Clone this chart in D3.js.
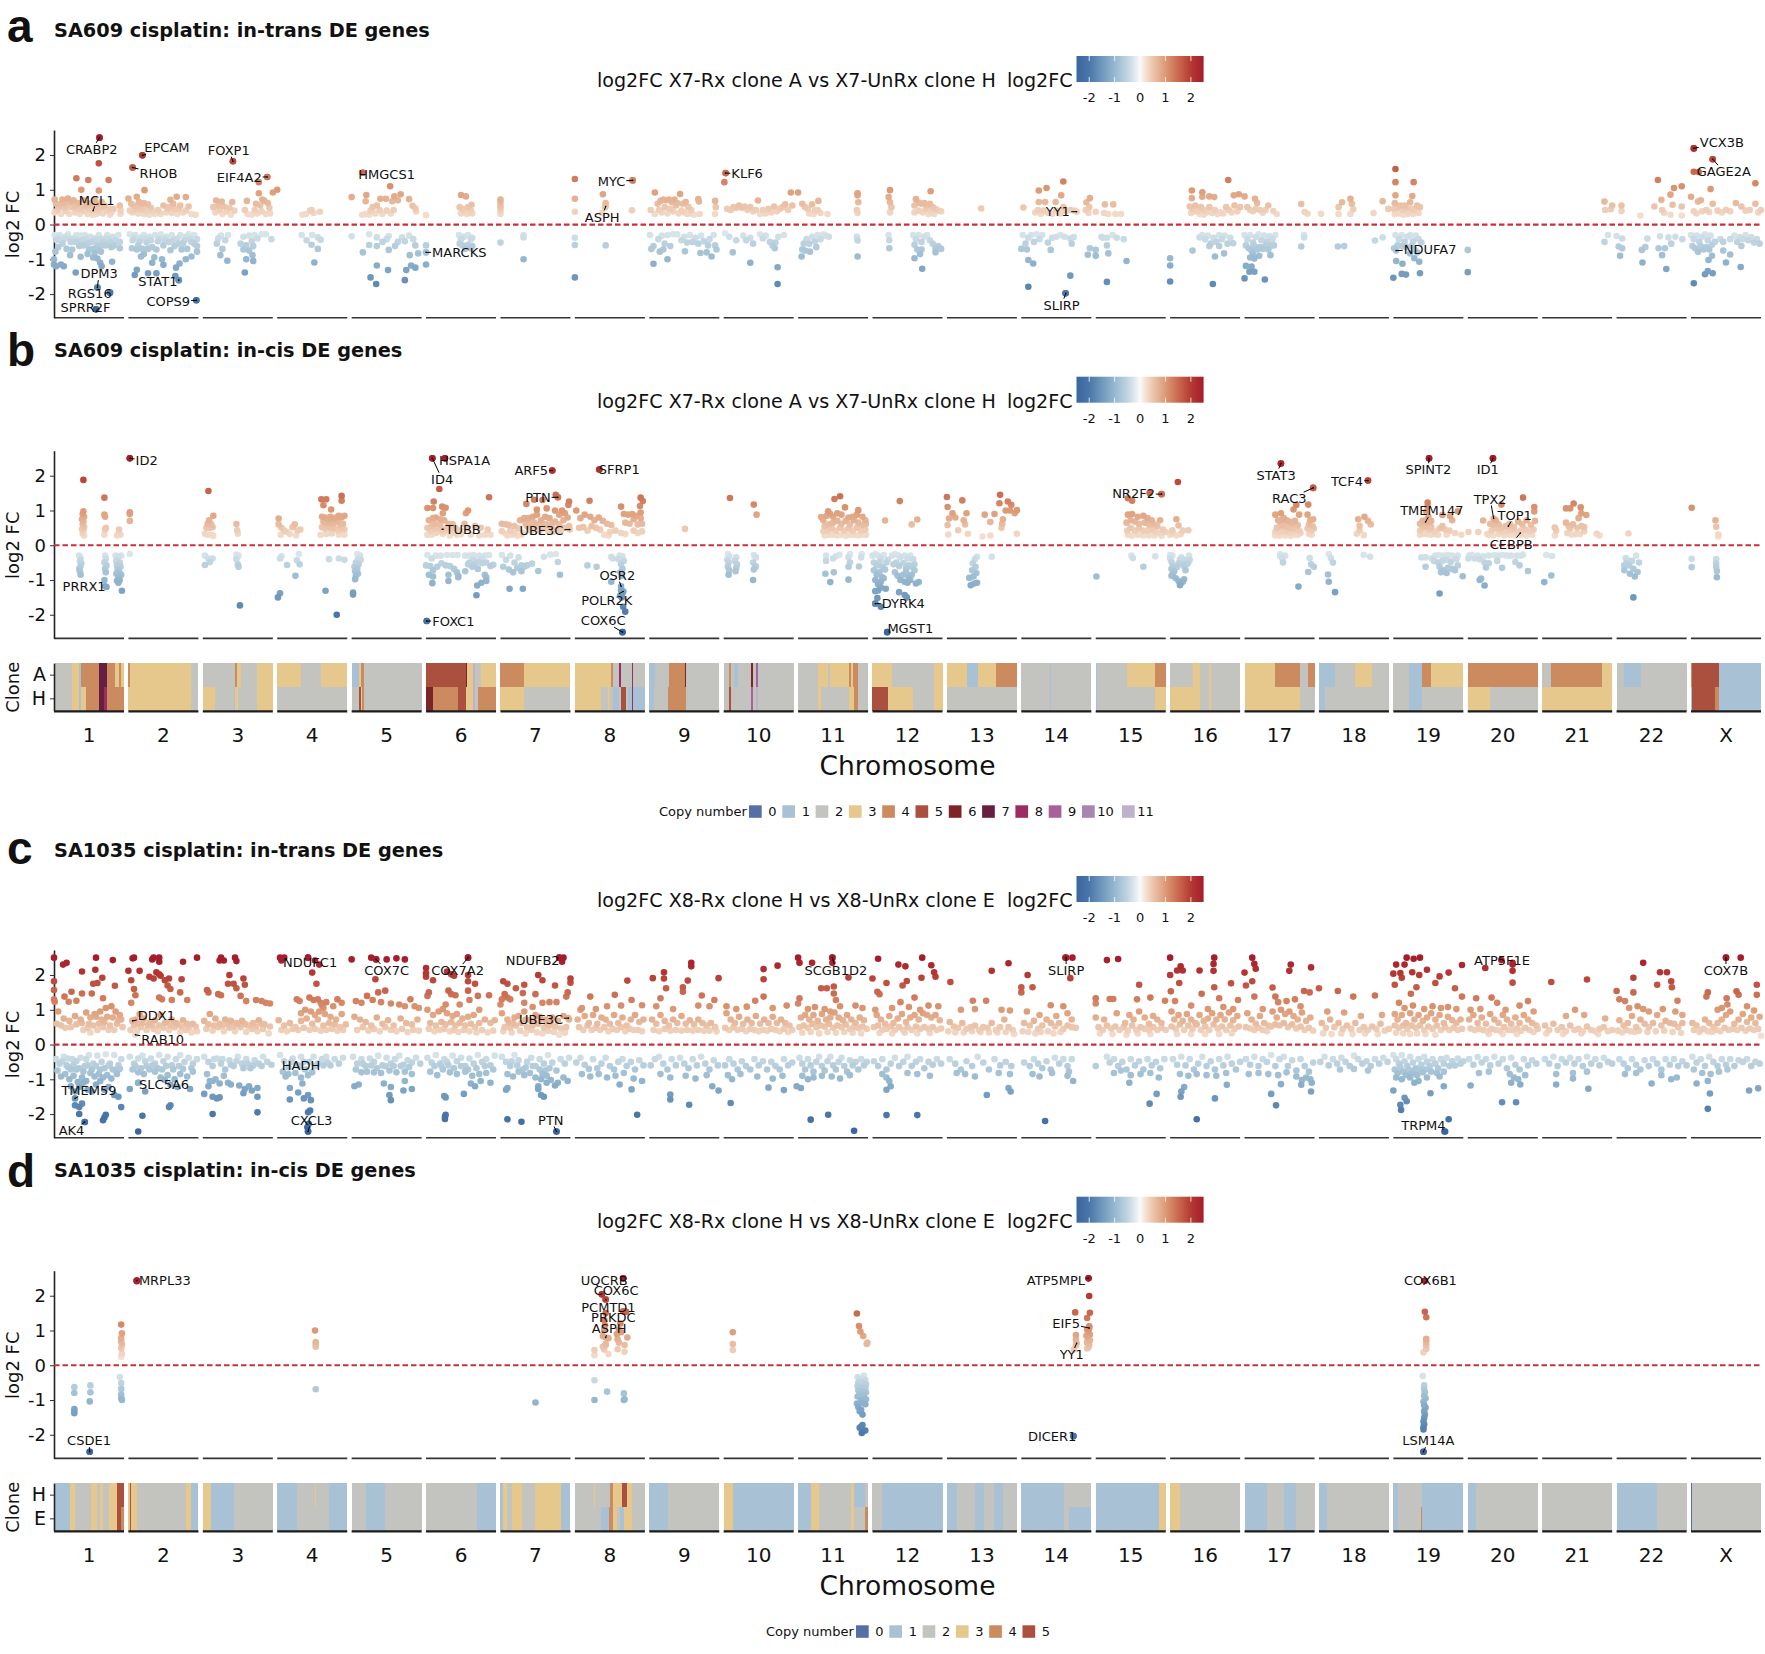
<!DOCTYPE html>
<html>
<head>
<meta charset="utf-8">
<script src="https://cdn.jsdelivr.net/npm/d3@7"></script>
<style>
  body { margin: 0; background: #fff; }
  text { font-family: "DejaVu Sans", sans-serif; fill: #111; }
</style>
</head>
<body>
<svg id="chart" width="1765" height="1654"></svg>
<script>
const chromNames = ['1','2','3','4','5','6','7','8','9','10','11','12','13','14','15','16','17','18','19','20','21','22','X'];
const fcTicks = [-2, -1, 0, 1, 2];
const fcStops = [-2.5, -2, -1.5, -1, -0.5, -0.2, 0, 0.2, 0.5, 1, 1.5, 2, 2.5];
const fcColors = ['#3a65a0', '#4a77a9', '#6f98bd', '#96b8cf', '#bfd4e0', '#e0eaee', '#fafafa', '#f5e3d6', '#ecc6ad', '#dc9a75', '#c9694f', '#b53a33', '#a51c2c'];
const cnColors = ['#5470a6', '#a9c1d4', '#c3c4bf', '#e6c88d', '#cc8b5f', '#ab503e', '#7d2428', '#661f3f', '#9c2d63', '#a9619a', '#a786b0', '#bfb0cc'];

// points are flat pos,fc pairs per chromosome, pos is 0-100 along the chromosome
const transA = [
 [65,2.5,64,1.76,32,1.33,49,1.28,78,1.28,64,.98,39,1,1,.72,12,.72,20,.75,3,.6,8,.58,15,.62,24,.65,28,.7,35,.62,42,.7,46,.55,52,.6,58,.72,62,.5,68,.65,72,.55,80,.45,1,.35,5,.42,10,.3,14,.48,18,.38,22,.3,26,.5,30,.35,33,.45,37,.3,40,.5,44,.38,48,.3,50,.45,54,.35,57,.5,60,.3,63,.42,66,.35,70,.32,75,.4,80,.28,85,.45,94,.55,95,.4,95,.3,82,.35,7,.5,17,.52,31,.55,38,.42,47,.62,55,.28,61,.6,67,.5,
  1,-.3,4,-.45,8,-.3,12,-.55,16,-.35,20,-.28,24,-.5,28,-.4,32,-.3,36,-.62,40,-.45,44,-.3,48,-.55,52,-.35,56,-.7,60,-.45,64,-.3,68,-.6,72,-.4,76,-.3,80,-.52,84,-.35,88,-.45,92,-.3,94,-.5,94,-.68,2,-.78,0,-1,3,-1.2,0,-1.15,10,-1.15,14,-1.2,23,-.88,38,-.93,48,-.85,56,-.95,62,-.98,66,-1.1,68,-1.2,83,-1.07,31,-1.38,62,-1.81,80,-1.96,60,-2.44,6,-.65,18,-.7,26,-.72,34,-.48,42,-.6,50,-.72,58,-.82,74,-.6,86,-.6,46,-.42,54,-.5,62,-.6,66,-.42,70,-.5,78,-.42,82,-.65,6,-.38,14,-.42,22,-.4,30,-.5,38,-.32,58,-.4,63,-.72,67,-.78],
 [20,1.99,6,1.64,23,.99,0,.75,12,.8,69,.8,82,.79,60,.71,4,.6,8,.55,15,.65,18,.6,22,.62,28,.58,2,.4,6,.35,10,.45,14,.32,18,.42,22,.3,26,.4,30,.28,34,.38,38,.3,42,.42,46,.3,50,.55,54,.35,58,.5,62,.33,66,.45,70,.3,74,.55,78,.35,82,.4,86,.52,90,.3,96,.28,8,.42,12,.52,20,.48,24,.32,32,.48,44,.36,56,.45,64,.6,72,.45,
  2,-.28,6,-.45,10,-.3,14,-.6,18,-.38,22,-.3,26,-.52,30,-.35,34,-.65,38,-.3,42,-.48,46,-.28,50,-.6,54,-.35,58,-.5,62,-.3,66,-.62,70,-.4,74,-.3,78,-.55,82,-.35,86,-.28,90,-.5,94,-.3,98,-.42,98,-.62,5,-.68,12,-.72,20,-.7,28,-.7,40,-.72,60,-.74,76,-.72,84,-.7,18,-.92,37,-.94,48,-1,34,-1.1,50,-1.16,12,-1.3,28,-1.4,40,-1.4,9,-1.45,68,-1.24,73,-1.12,82,-1,98,-.78,67,-1.48,72,-1.6,97,-2.18,22,-.85,90,-.92,8,-.4,16,-.48,24,-.4,32,-.45,44,-.4,52,-.45,64,-.45,72,-.55,80,-.45,88,-.42,94,-.55],
 [43,1.82,92,1.37,80,1.22,100,.92,80,.9,19,.69,27,.66,42,.65,63,.68,93,.62,85,.72,88,.68,76,.6,82,.55,95,.48,15,.5,22,.55,30,.52,38,.48,18,.35,24,.42,28,.3,34,.38,40,.28,45,.4,60,.42,64,.3,70,.28,74,.42,78,.32,84,.38,90,.3,96,.32,
  22,-.4,26,-.32,32,-.45,36,-.3,28,-.7,25,-.88,35,-1.04,20,-.55,62,-1,71,-.88,72,-1.05,60,-1.38,98,-.42,54,-.55,58,-.35,62,-.6,66,-.32,70,-.48,74,-.3,78,-.4,84,-.28,90,-.28,58,-.72,66,-.75,72,-.62],
 [0,1,36,.28,47,.4,52,.33,61,.37,41,.3,49,.42,35,-.3,42,-.45,50,-.3,58,-.37,62,-.44,49,-.58,58,-.7,53,-1.09],
 [0,.79,21,.85,20,.67,16,1.49,55,1.1,70,.87,61,.81,41,.74,49,.74,58,.67,66,.7,82,.73,87,.54,91,.47,30,.5,36,.55,27,.4,34,.32,15,.28,20,.3,25,.28,40,.42,44,.3,50,.4,56,.32,60,.42,92,.38,
  0,-.34,25,-.28,36,-.37,53,-.33,72,-.37,82,-.32,16,-.8,25,-.59,36,-.62,53,-.73,62,-.62,83,-.88,95,-.83,91,-.6,44,-.5,50,-.42,66,-.5,76,-.48,88,-.42,36,-1.18,52,-1.31,78,-1.31,85,-1.18,91,-1.24,27,-1.52,35,-1.71,76,-1.6],
 [0,.27,50,.85,57,.81,65,.57,48,.5,52,.45,60,.5,64,.4,50,.32,54,.38,58,.3,62,.35,66,.32,0,-.6,0,-1.15,0,-.8,47,-.3,50,-.42,54,-.35,60,-.3,64,-.42,66,-.38,48,-.55,52,-.6,60,-.58,64,-.68,56,-.7,66,-.62],
 [0,.72,0,.65,0,.55,0,.48,0,.4,0,.3,0,-.52,33,-.3,33,-.37,33,-1],
 [0,1.31,0,.74,0,.37,40,.87,44,.62,81.5,.41,82.5,1.27,43,.5,39,.33,44,-.6,0,-.59,0,-1.52,0,-.38],
 [8,.92,44,.88,70,.73,71,.66,2,.42,12,.6,16,.68,20,.72,24,.7,28,.72,32,.65,36,.72,40,.62,48,.6,52,.65,56,.5,60,.42,8,.3,14,.42,18,.35,22,.5,26,.32,30,.45,34,.38,38,.55,42,.32,46,.4,50,.35,54,.3,58,.32,64,.28,72,.3,94,.68,95,.5,94,.3,
  1,-.3,6,-.62,13,-.42,15,-.78,18,-.32,22,-.55,26,-.3,30,-.62,34,-.28,40,-.28,46,-.45,50,-.35,54,-.52,58,-.3,62,-.5,66,-.38,70,-.55,74,-.32,78,-.48,84,-.6,86,-.42,92,-.3,6,-1.13,26,-1,51,-.77,73,-.82,82,-.8,89,-.92,3,-.7,20,-.72,96,-.72,94,-.6],
 [3,1.48,1,1.22,49,.69,96,.92,5,.45,10,.42,14,.5,18,.48,22,.55,26,.48,30,.52,34,.42,38,.5,42,.38,46,.42,52,.3,56,.42,60,.32,64,.45,68,.35,72,.52,76,.38,80,.45,84,.5,88,.58,92,.42,98,.55,
  2,-.25,8,-.35,13,-.8,18,-.45,28,-.32,32,-.45,38,-.38,42,-.55,52,-.28,56,-.4,60,-.32,66,-.5,70,-.6,74,-.52,78,-.35,86,-.3,38,-1.1,77,-1.23,77,-1.71,73,-.68],
 [0,.92,6,.6,29,.68,10,.5,14,.45,20,.58,24,.4,16,.32,22,.3,28,.42,32,.33,42,.3,85,.9,85,.84,86,.64,84,.42,85,.33,
  5,-.92,17,-.78,26,-.65,85,-.92,85,-.46,44,-.35,8,-.55,12,-.42,16,-.55,20,-.35,24,-.48,28,-.3,32,-.42,36,-.28,39,-.32,6,-.72,10,-.75,84,-.35],
 [25,.99,23,.79,25,.64,27,.5,25,.35,83,.96,62,.73,66,.63,60,.55,70,.6,74,.62,78,.55,82,.6,86,.5,90,.45,60,.35,66,.4,72,.35,76,.45,80,.3,84,.38,88,.3,94,.4,98,.38,
  23,-.3,24,-.45,24,-.68,58,-.3,62,-.42,66,-.3,70,-.5,74,-.35,78,-.3,82,-.45,86,-.55,90,-.68,94,-.62,98,-.7,60,-.58,64,-.72,70,-.72,60,-.97,71,-1.27,68,-.85,90,-.8],
 [49,.46],
 [3,.49,25,.98,36,1.05,60,1.24,57,.84,25,.65,34,.65,49,.65,60,.5,20,.35,24,.42,28,.3,32,.4,38,.33,44,.3,50,.4,56,.32,64,.38,70,.42,76,.4,98,.76,93,.64,97,.5,92,.42,96,.33,
  2,-.3,6,-.55,10,-.38,14,-.3,18,-.5,22,-.28,26,-.42,30,-.3,38,-.52,44,-.38,50,-.35,56,-.3,62,-.35,70,-.4,75,-.36,8,-.72,0,-.7,10,-1.02,17,-1.12,10,-1.79,70,-1.47,63,-1.98,42,-.73,72,-.55,95,-.87,98,-.68],
 [13,.58,25,.58,0,.37,12,.33,18,.3,28,.3,36,.3,10,-.38,16,-.38,24,-.3,30,-.38,40,-.42,0,-.73,0,-.9,16,-.6,18,-.83,44,-1.05,16,-1.65,8,-.35],
 [0,-.97,0,-1.18,0,-1.64,31,.98,31,.76,46,.93,46,.8,56,.81,63,.79,83,1.28,91,.84,98,.87,28,.52,32,.45,36,.55,40,.4,44,.5,48,.42,52,.35,56,.5,60,.33,64,.42,68,.3,72,.35,76,.32,80,.5,84,.42,88,.35,92,.55,96,.38,100,.5,30,.33,36,.38,42,.3,48,.28,
  32,-.75,42,-.37,46,-.3,50,-.42,54,-.32,58,-.55,62,-.38,66,-.5,70,-.3,74,-.42,78,-.32,82,-.55,86,-.38,90,-.54,64,-.92,61,-1.71,77,-.83,70,-.62,56,-.62],
 [0,.81,15,.74,18,.62,34,.55,41,.39,4,.5,8,.42,12,.38,16,.45,22,.42,26,.34,30,.42,46,.3,
  0,-.3,4,-.42,8,-.3,12,-.52,16,-.36,20,-.28,24,-.45,28,-.32,32,-.5,36,-.34,40,-.42,44,-.3,2,-.6,6,-.68,10,-.75,14,-.62,18,-.72,22,-.65,26,-.7,30,-.6,34,-.72,38,-.6,42,-.6,12,-.85,21,-.9,37,-.88,2,-1.19,10,-1.21,7,-1.36,14,-1.36,0,-1.55,29,-1.58,8,-.95,14,-.98,81,.59,86,.36,90,.31,85,-.3,85,-.37,81,-.63],
 [3,.31,28,.3,28,.5,33,.64,45,.74,47,.6,49,.44,45,.3,78,.33,91,.67,99,.45,27,-.63,36,-.62,80,-.46,91,-.37],
 [3,1.6,3,1.22,29,1.22,3,.84,27,.82,2,.62,16,.55,24,.64,1,.45,6,.48,10,.55,14,.42,18,.5,22,.36,26,.45,30,.42,34,.55,38,.5,2,.3,8,.32,14,.28,20,.3,28,.3,36,.33,
  3,-.3,8,-.42,12,-.3,16,-.5,20,-.35,24,-.3,28,-.48,32,-.32,36,-.42,40,-.52,1,-.68,24,-.83,30,-.97,37,-1.07,4,-1.05,13,-1.13,12,-1.42,18,-1.44,0,-1.53,38,-1.4,6,-.6,12,-.62,18,-.65,26,-.62,30,-.72,34,-.8],
 [0,-.73,0,-1.37],
 [89,.66,100,.55,90,.42,98,.44,94,-.3,89,-.5],
 [7,.55,7,.39,34,.26,54,.52,64,.71,59,1.28,65,.42,77,.86,82,1.05,93,1.1,80,.57,93,.52,93,.26,77,.28,68,.34,0,-.33,8,-.4,3,-.63,8,-.68,5,-.9,37,-1.09,36,-.73,41,-.65,44,-.4,60,-.68,69,-.68,65,-.88,71,-1.28,62,-.34,74,-.37,84,-.35,94,-.42,78,-.55],
 [4,2.19,31,1.88,4,1.52,11,1.51,28,1.02,0,.8,10,.66,14,.7,31,.6,64,.62,92,1.19,92,.6,4,.38,8,.32,16,.38,22,.42,26,.36,38,.4,44,.35,50,.42,56,.38,72,.52,78,.4,84,.42,96,.35,100,.42,
  0,-.3,4,-.42,8,-.32,12,-.5,16,-.35,20,-.28,24,-.45,28,-.32,2,-.62,6,-.68,10,-.78,14,-.62,18,-.72,22,-.65,26,-.72,30,-.58,34,-.5,25,-1.02,30,-.9,46,-.75,56,-.86,50,-1.09,71,-1.22,4,-1.69,20,-1.43,24,-1.34,31,-1.4,56,-.42,62,-.32,66,-.5,70,-.36,74,-.42,78,-.3,82,-.45,86,-.36,90,-.52,94,-.42,98,-.55,72,-.62,42,-.42,46,-.5]
];

const cisB = [
 [42,1.88,72,1.37,42,.98,41,.9,43,.82,40,.75,42,.68,41,.6,43,.52,40,.46,42,.4,41,.33,43,.27,72,.88,73,.82,74,.5,73,.45,72,.3,93,.45,92,.33,90,.28,95,.3,
  36,-.3,38,-.38,37,-.45,39,-.52,38,-.6,36,-.68,37,-.75,38,-.85,73,-.3,74,-.4,72,-.5,75,-.58,73,-.68,74,-.78,72,-1,75,-1.2,88,-.3,92,-.35,96,-.3,89,-.45,94,-.5,90,-.58,95,-.62,91,-.7,93,-.78,89,-.82,96,-.85,92,-.92,94,-1,90,-1.02,92,-1.08,97,-1.31],
 [2,2.5,2,.95,2,.9,2,.7,2,-.25],
 [8,1.56,15,.85,9,.72,7,.62,12,.6,5,.5,10,.5,14,.52,3,.33,7,.3,12,.3,15,.27,48,.61,49,.43,50,.33,3,-.3,8,-.38,14,-.38,3,-.57,10,-.48,48,-.27,51,-.3,48,-.4,50,-.55,51,-.62,53,-1.73],
 [2,.77,2,.6,6,.5,10,.42,14,.38,18,.32,5,.3,25,.6,22,.52,29,.42,33,.45,27,.28,63,1.32,70,1.32,66,1.15,77,1.03,92,1.42,92,1.28,64,.82,68,.8,72,.78,76,.82,80,.76,84,.8,88,.85,92,.8,96,.85,66,.68,70,.65,74,.7,78,.62,82,.66,86,.68,90,.6,94,.62,64,.52,68,.48,72,.55,76,.48,80,.52,84,.46,88,.42,92,.5,96,.45,62,.3,70,.32,78,.34,88,.3,96,.3,
  6,-.32,4,-.38,14,-.57,28,-.43,32,-.55,31,-.25,26,-.88,4,-1.38,1,-1.5,69,-1.31,85,-2,74,-.4,88,-.38,96,-.42],
 [8,-.25,12,-.3,9,-.38,13,-.42,6,-.5,10,-.55,4,-.62,8,-.68,5,-.75,9,-.82,6,-.88,5,-.98,2,-1.42,2,-1.36],
 [9,2.5,27,2.5,1,-2.18,19,1.62,90,1.38,11,1.26,2,1.07,10,1.07,23,1.11,28,1.08,24,.92,60,1,57,.92,4,.72,10,.78,14,.8,20,.75,26,.72,32,.62,38,.6,2,.5,8,.55,14,.48,18,.5,22,.42,30,.5,36,.48,42,.5,48,.42,55,.62,58,.48,70,.55,78,.5,2,.3,8,.3,14,.35,24,.33,34,.28,44,.3,50,.32,64,.3,76,.28,84,.3,88,.45,92,.3,6,.42,12,.62,16,.38,20,.6,28,.42,40,.36,
  2,-.28,8,-.38,14,-.3,21,-.3,30,-.28,38,-.28,45,-.28,56,-.3,62,-.3,68,-.28,76,-.3,84,-.3,90,-.28,0,-.58,6,-.6,10,-.72,16,-.62,22,-.52,28,-.58,34,-.6,40,-.68,44,-.78,46,-.88,32,-.85,56,-.75,66,-.62,70,-.55,74,-.68,80,-.52,86,-.5,92,-.6,96,-.56,62,-.5,4,-.85,10,-.9,9,-1.09,32,-1.03,46,-.92,72,-1.44,73,-1.16,79,-1.08,86,-1.03,84,-.85,86,-.92,68,-.42,74,-.48,80,-.38,60,-.55],
 [74,2.15,79,1.45,82,1.38,37,1.19,48,1.31,52,1.03,60,1.3,66,1.06,98,1.26,97,1.16,78,1,88,1,92,.92,2,.62,8,.6,12,.58,20,.55,28,.72,34,.78,40,.78,46,.82,52,.88,58,.72,64,.82,70,.78,74,.62,84,.88,90,.72,96,.8,2,.4,8,.32,14,.42,20,.35,26,.48,32,.35,38,.55,44,.42,50,.55,56,.42,62,.5,68,.42,74,.38,80,.45,86,.42,92,.5,98,.55,10,.28,16,.3,24,.27,30,.3,36,.62,42,.62,48,.65,54,.6,60,.62,66,.6,72,.55,78,.68,84,.6,
  2,-.28,8,-.42,14,-.3,20,-.5,26,-.35,30,-.58,4,-.62,12,-.7,18,-.78,24,-.65,30,-.75,34,-.62,38,-.58,13,-1.25,32,-1.25,45,-.53,54,-.74,62,-.33,71,-.27,79,-.25,85,-.85,82,-.48],
 [35,2.18,21,1.28,2,1,66,1.11,94,1.37,97,1.27,93,1.13,94,.94,8,.78,14,.88,22,.82,28,.72,34,.8,40,.7,46,.62,52,.58,58,.42,70,.9,76,.88,82,.9,88,.85,94,.78,72,.65,78,.62,84,.75,90,.6,96,.62,6,.5,12,.52,18,.42,24,.55,30,.5,36,.45,42,.3,50,.38,48,.28,66,.35,72,.32,84,.42,90,.35,96,.4,
  18,-.58,31,-.62,52,-.33,54,-.38,64,-.3,68,-.32,62,-.4,70,-.45,66,-.55,68,-.68,65,-.78,67,-.88,52,-1.05,66,-1.3,68,-1.38,65,-1.45,67,-1.5,69,-1.77,72,-1.91,68,-2.5,69,-1.33],
 [51,.47],
 [9,1.36,43,1.17,47,.88,6,-.25,8,-.32,5,-.42,7,-.5,6,-.62,8,-.72,7,-.85,18,-.35,16,-.45,19,-.55,18,-.65,17,-.75,43,-.28,46,-.35,42,-.5,45,-.6,43,-.7,46,-.62,42,-1],
 [52,1.33,60,1.41,33,.81,43,.98,67,1.09,86,1.01,36,.72,41,.85,46,.9,50,.82,56,.92,62,.88,72,.8,78,.82,84,.88,92,.82,96,.72,38,.55,44,.6,50,.65,56,.7,62,.62,68,.7,74,.6,80,.72,86,.65,92,.58,97,.62,36,.4,42,.42,48,.48,54,.42,60,.5,66,.42,72,.48,78,.42,84,.5,90,.42,96,.45,38,.28,44,.3,50,.3,56,.28,62,.3,68,.27,74,.3,80,.3,86,.28,92,.3,97,.3,
  40,-.3,40,-.45,59,-.27,74,-.25,91,-.25,54,-.32,50,-.38,72,-.35,74,-.5,72,-.62,90,-.35,39,-.82,51,-.78,46,-1.06,72,-.99,87,-.61],
 [39,1.27,18,.71,64,.74,56,.6,
  0,-.3,4,-.25,8,-.3,12,-.38,16,-.28,22,-.42,28,-.3,32,-.25,36,-.28,40,-.35,46,-.3,50,-.38,54,-.3,58,-.4,2,-.5,6,-.58,10,-.48,14,-.62,20,-.5,30,-.55,34,-.5,38,-.6,44,-.52,48,-.68,52,-.58,56,-.62,60,-.55,2,-.72,6,-.85,10,-.78,14,-.92,18,-.7,32,-.78,36,-.88,44,-.85,48,-.78,52,-.92,56,-.85,60,-.72,4,-1,8,-1.12,12,-1.05,16,-.95,40,-1,46,-1.05,50,-1.08,54,-1,62,-1.1,66,-1.06,4,-1.32,8,-1.3,12,-1.22,7,-1.52,4,-1.68,12,-1.77,21,-2.5,38,-1.35,46,-1.43,49,-1.5,19,-1.25],
 [0,1.39,22,1.29,1,1.1,28,.92,8,.92,3,.77,24,.72,1,.58,2,.31,76,1.45,75,1.21,87,1.26,92,1.16,100,1.01,54,.88,68,.9,62,.67,79,.62,97,.92,100,.33,16,.43,30,.33,51,.25,62,.28,78,.5,12,.8,26,.6,80,.75,84,1,90,1,
  43,-.33,64,-.33,40,-.4,37,-.52,41,-.62,36,-.72,42,-.8,38,-.9,32,-.94,34,-1.15,43,-1.08,39,-1.1],
 [],
 [46,1.35,77,1.5,94,1.47,52,1.28,46,.88,52,.9,60,.82,68,.85,74,.78,80,.72,88,.55,92,.72,44,.65,50,.72,56,.68,62,.62,70,.65,76,.6,84,.6,96,.45,45,.42,50,.5,56,.42,62,.48,68,.42,74,.42,80,.45,86,.38,92,.35,100,.38,46,.3,52,.27,60,.3,68,.28,76,.28,84,.28,94,.27,
  1,-.9,51,-.3,53,-.37,68,-.62,85,-.32],
 [11,1.82,9,.75,12,.57,26,.43,9,.28,3,.43,18,.42,15,.32,4,.35,0,.3,
  0,-.28,0,-.38,3,-.3,2,-.48,4,-.6,2,-.68,6,-.75,4,-.82,2,-.88,8,-.95,12,-1.03,14,-1.15,15,-1.1,18,-1.05,20,-.98,22,-.72,20,-.6,24,-.55,26,-.5,28,-.42,14,-.42,16,-.35,12,-.52,10,-.62,18,-.55,22,-.42,27,-.3],
 [52,2.35,98,1.65,70,1.03,74,1.16,44,.88,52,.92,78,.88,91,1.17,48,.72,52,.72,56,.78,60,.72,64,.68,68,.62,72,.7,76,.58,46,.5,50,.55,54,.58,58,.55,62,.52,66,.48,70,.5,74,.45,78,.42,44,.38,48,.35,52,.4,56,.38,60,.42,64,.35,68,.38,72,.3,76,.3,80,.35,44,.28,50,.27,58,.28,66,.27,90,.88,94,.72,98,.75,92,.6,97,.55,90,.48,95,.42,99,.48,92,.33,96,.3,
  51,-.25,58,-.3,55,-.5,93,-.37,95,-.55,99,-.62,91,-.77,77,-1.19,51,-.32,54,-.38],
 [70,1.86,65,.82,56,.75,70,.7,74,.6,58,.56,58,.43,54,.33,64,.29,14,-.25,17,-.37,20,-.5,13,-.84,14,-1.05,23,-1.35,64,-.28,73,-.33],
 [51,2.5,49,1.23,49,1.12,47,.97,50,.82,38,.62,42,.7,46,.72,50,.65,54,.7,38,.42,42,.5,46,.55,50,.45,54,.52,58,.4,38,.3,42,.33,48,.32,54,.3,60,.32,70,.87,81,.84,92,.98,84,.72,70,.55,66,.48,74,.45,80,.42,88,.35,97,.3,64,.3,76,.3,
  40,-.35,46,-.35,46,-.62,55,-.38,60,-.3,65,-.28,72,-.3,78,-.28,84,-.3,92,-.3,58,-.45,64,-.5,70,-.45,76,-.42,82,-.48,90,-.4,66,-.62,72,-.72,78,-.65,70,-.75,84,-.68,92,-.58,68,-.78,76,-.8,66,-1.39,99,-.89,88,-.72],
 [36,2.5,48,1.17,79,1.37,95,1.1,95,.97,22,.71,15,.38,28,.32,32,.62,36,.58,40,.72,44,.6,48,.5,54,.55,60,.62,66,.52,72,.68,78,.6,84,.72,90,.58,96,.7,34,.42,40,.48,46,.42,52,.38,58,.42,64,.45,70,.38,76,.42,82,.45,88,.4,94,.45,30,.3,36,.28,44,.32,52,.28,60,.3,68,.28,76,.3,84,.28,92,.3,1,.38,
  2,-.3,6,-.28,1,-.38,10,-.38,14,-.3,17,-.4,22,-.32,19,-.96,17,-1,24,-1.16,26,-.64,49,-.65,86,-.74,74,-.58,68,-.48,79,-.27,30,-.3,38,-.28,44,-.3,50,-.28,56,-.3,62,-.3,70,-.3,76,-.3,24,-.5,30,-.52,42,-.45],
 [45,1.2,34,1.06,40,1.06,55,1.09,56,.92,63,.87,52,.78,34,.65,18,.51,18,.28,40,.48,60,.52,78,.33,82,.28,38,.55,44,.6,50,.5,56,.55,36,.35,42,.3,48,.32,54,.32,60,.4,20,.42,6,-.28,14,-.31,13,-.87,3,-1.06],
 [17,.34,13,-.37,28,-.3,32,-.5,11,-.58,11,-.72,19,-.82,30,-.77,26,-.9,24,-1.5,15,-.42,22,-.45,18,-.58,24,-.68,14,-.52],
 [1,1.08,35,.72,36,.53,39,.31,39,.25,1,-.39,1,-.63,36,-.4,36,-.52,37,-.74,37,-.92,36,-.62]
];

const transC = [
 [0,2.5,13,2.3,18,2.35,40,2.1,60,2.5,59,2.15,84,2.43,0,1.82,0,1.57,62,1.77,69,1.92,87,1.69,25,1.52,15,1.38,40,1.47,54,1.47,70,1.33,1,1.23,21,1.23,32,1.26,56,1.75,0,1.3,6,.95,14,.75,22,.68,30,.82,38,.72,46,.92,52,.78,58,.88,66,.95,74,1.05,82,1.1,88,.95,94,.85,4,.6,10,.55,16,.48,24,.5,32,.58,40,.62,48,.48,56,.55,64,.6,72,.65,80,.55,90,.6,96,.72,98,.5,60,.8,68,.72,76,.8,84,.78,92,.7,50,.6,42,.42,52,.35,62,.42,70,.5,78,.42,86,.42,
  3,-.42,8,-.55,14,-.35,20,-.65,26,-.42,32,-.72,38,-.38,44,-.62,50,-.3,56,-.55,62,-.32,68,-.5,74,-.28,80,-.55,86,-.3,92,-.6,96,-.42,5,-.75,10,-.92,16,-.85,22,-1,28,-.9,34,-1.08,40,-.95,46,-1.05,52,-.82,58,-.92,64,-.85,70,-.95,76,-.88,82,-.98,88,-.75,94,-.7,24,-1.2,30,-1.35,36,-1.22,42,-1.1,48,-1.3,54,-1.35,60,-1.15,66,-1.05,72,-1.3,78,-1.22,86,-1.45,92,-1.5,30,-1.75,36,-1.8,40,-1.7,96,-1.8,36,-2,44,-2.23,72,-2.1,70,-2.18,74,-2.02,12,-.48,18,-.6,24,-.72,28,-.58,36,-.68,42,-.78,48,-.6,54,-.72,60,-.62,66,-.72,72,-.68,78,-.6,84,-.72,90,-.85,32,-.48,20,-.4,46,-.42],
 [6,2.48,8,2.5,0,2.12,16,2.12,34,2.45,36,2.5,44,2.5,44,2.38,78,2.38,98,2.5,40,2.08,44,2.02,30,1.95,36,1.9,46,1.98,52,1.85,58,1.9,76,1.88,56,1.7,60,1.6,8,1.6,10,1.42,4,1.85,44,1.35,48,1.3,62,1.28,74,1.5,84,1.28,4,1.2,16,.88,10,.72,6,.68,22,.75,30,.62,38,.7,46,.85,54,.65,62,.72,70,.58,78,.7,86,.5,92,.6,96,.52,3,.42,12,.38,18,.5,26,.42,34,.55,42,.38,50,.48,58,.42,66,.5,74,.36,82,.42,90,.35,98,.38,8,.55,14,.6,20,.62,28,.55,36,.45,44,.55,52,.62,60,.55,68,.62,76,.52,84,.6,
  2,-.35,8,-.55,14,-.4,20,-.32,26,-.62,32,-.4,38,-.55,44,-.3,50,-.48,56,-.35,62,-.6,68,-.42,74,-.3,80,-.5,86,-.38,92,-.55,98,-.42,6,-.72,14,-.8,22,-.85,30,-.72,38,-.78,46,-.95,56,-.88,66,-1,74,-.85,84,-.92,92,-.78,14,-1.1,52,-1.02,60,-1.15,70,-1.22,88,-1.28,2,-1.28,24,-1.35,60,-1.75,20,-2.05,58,-1.8,14,-2.5,10,-.62,18,-.68,24,-.48,34,-.6,42,-.68,48,-.72,54,-.62,64,-.72,72,-.62,78,-.7,90,-.68],
 [26,2.5,24,2.42,46,2.5,48,2.4,30,2.42,38,2,36,1.75,58,1.9,60,1.72,44,1.75,48,1.62,6,1.57,8,1.5,22,1.45,26,1.42,54,1.4,62,1.25,76,1.28,84,1.25,90,1.2,96,1.18,2,.68,10,.88,18,.75,24,.6,32,.72,40,.68,48,.62,56,.68,64,.55,72,.62,80,.7,88,.58,96,.52,5,.45,14,.4,22,.5,30,.38,38,.48,46,.38,54,.5,62,.36,70,.45,78,.38,86,.45,94,.32,8,.58,16,.55,28,.55,36,.58,44,.52,52,.58,60,.6,68,.55,76,.52,84,.6,
  2,-.35,8,-.5,14,-.62,20,-.4,26,-.55,32,-.72,38,-.45,44,-.62,50,-.35,56,-.55,62,-.42,68,-.68,74,-.45,80,-.55,86,-.35,92,-.5,98,-.58,6,-.85,10,-1.05,18,-1,24,-1.12,30,-.9,36,-1.1,40,-1.15,52,-1.18,60,-1.28,66,-1.2,70,-1.32,78,-1.25,14,-1.05,8,-1.2,2,-1.42,14,-1.5,20,-1.55,24,-1.52,58,-1.4,78,-1.5,14,-2,78,-1.95,16,-.42,28,-.42,40,-.58,48,-.48,58,-.68,64,-.55,72,-.6,84,-.62],
 [4,2.5,6,2.42,10,2.5,44,2.5,54,2.42,60,2.3,50,2.07,56,1.75,58,1.3,28,1.3,32,1.25,46,1.35,52,1.28,62,1.2,64,1.12,66,1.05,70,1.22,80,1.1,86,1.3,92,1.2,34,.9,40,1,48,.95,54,.85,60,.95,68,.88,76,.8,84,.72,92,.88,2,.7,10,.55,18,.62,26,.5,34,.68,42,.75,50,.6,58,.72,66,.55,74,.62,82,.58,90,.5,98,.58,6,.42,14,.38,22,.45,30,.42,38,.48,46,.42,54,.45,62,.4,70,.42,78,.45,86,.4,94,.42,
  4,-.3,10,-.48,16,-.65,22,-.4,28,-.58,34,-.35,40,-.72,46,-.5,52,-.35,58,-.55,64,-.42,70,-.35,76,-.6,82,-.42,88,-.55,94,-.38,8,-.78,16,-.85,26,-.82,34,-.95,44,-.88,50,-.8,12,-.92,36,-1.12,18,-1.25,30,-1.38,38,-1.55,44,-1.45,48,-1.6,18,-1.58,47,-1.9,44,-1.95,44,-2.5,43,-2.38,45,-2.28,20,-.5,32,-.62,38,-.5,54,-.62,66,-.6,72,-.52],
 [0,2.45,28,2.5,35,2.45,50,2.45,64,2.48,76,2.45,34,1.88,48,1.55,38,1.5,22,1.4,6,1.25,14,1.2,30,1.28,42,1.22,56,1.18,68,1.15,76,1.1,84,1.3,90,1.1,96,1.05,4,.8,12,.72,20,.65,28,.55,36,.78,44,.6,52,.7,60,.55,70,.75,78,.62,86,.58,94,.72,8,.42,16,.5,24,.4,32,.45,40,.38,48,.5,56,.42,64,.38,72,.45,80,.36,88,.42,96,.4,
  2,-.35,8,-.55,14,-.42,20,-.62,26,-.4,32,-.5,38,-.32,44,-.6,50,-.38,56,-.55,62,-.42,68,-.32,74,-.58,80,-.45,86,-.52,92,-.38,98,-.55,6,-.72,14,-.8,22,-.78,32,-.8,42,-.82,54,-.75,64,-.8,76,-.78,86,-.85,10,-1.15,4,-1.2,46,-1.12,56,-1.22,76,-1.05,86,-1.28,54,-1.45,56,-1.6,74,-1.32,16,-.55,28,-.6,36,-.68,48,-.62,60,-.62,70,-.62,82,-.65],
 [60,2.5,0,2.2,0,2.05,0,1.95,10,1.85,30,2.1,36,2.02,40,1.98,60,2,60,1.82,70,1.75,2,1.4,4,1.5,32,1.55,36,1.45,42,1.42,60,1.55,74,1.4,48,1.15,28,1.15,62,1.28,90,1.42,76,1,2,1,10,.85,18,.95,24,1.02,30,.9,38,.82,44,.88,52,.75,60,.8,68,.85,76,.62,84,.72,92,.62,98,.7,6,.62,14,.55,22,.65,28,.58,36,.65,42,.55,48,.62,56,.55,64,.6,70,.5,4,.45,12,.38,20,.42,26,.45,34,.38,40,.42,46,.36,54,.42,62,.38,72,.35,80,.42,88,.35,96,.4,
  2,-.38,8,-.52,14,-.3,20,-.55,26,-.42,32,-.6,38,-.32,44,-.48,50,-.38,56,-.62,62,-.4,68,-.55,74,-.3,80,-.5,86,-.42,92,-.6,98,-.32,6,-.78,16,-.88,24,-.72,34,-.8,44,-.85,56,-.78,66,-.9,76,-.85,86,-.82,96,-.72,78,-1.05,70,-1.2,64,-1.12,54,-1.42,28,-1.52,26,-1.48,28,-2.02,27,-2.08,27,-2.14,92,-1.1,12,-.62,22,-.62,30,-.5,40,-.68,50,-.62,60,-.72,72,-.68,84,-.62],
 [10,1.75,6,1.45,4,1.82,2,1.3,0,1.15,10,1.35,14,1.3,22,1.62,34,1.72,34,1.2,32,1.48,50,1.45,60,1.85,84,2.5,90,2.5,88,2.38,54,2,78,1.7,100,1.78,100,1.9,96,1.5,94,1.38,80,1.22,70,1.22,60,1.2,46,1.08,2,.9,10,.72,18,.62,26,.82,34,.95,42,.7,50,.85,58,.72,66,.6,74,.78,82,.68,90,.82,98,.72,6,.5,14,.48,22,.55,30,.62,38,.5,46,.55,54,.6,62,.48,70,.55,78,.52,86,.46,94,.5,4,.38,16,.35,28,.4,36,.32,44,.42,52,.35,60,.32,68,.4,76,.36,84,.28,92,.34,12,.62,20,.78,36,.72,48,.68,56,.8,64,.72,72,.66,
  2,-.35,8,-.5,14,-.62,20,-.3,26,-.45,32,-.72,38,-.5,44,-.38,50,-.62,56,-.42,62,-.55,68,-.3,74,-.52,80,-.75,86,-.42,92,-.55,98,-.38,10,-.85,18,-.92,26,-.78,34,-.88,42,-.82,50,-.95,58,-1,66,-1.1,72,-1.02,78,-1.18,82,-1.1,90,-.95,96,-1.05,54,-1.28,58,-1.45,62,-1.5,10,-1.25,8,-1.3,54,-1.2,10,-2.15,30,-2.22,80,-2.5,16,-.48,24,-.6,36,-.66,46,-.62,56,-.72,64,-.75,70,-.68,60,-.85,66,-.9],
 [57,1.43,75,1.84,22,1.38,81,1.28,96,1.13,10,1.05,30,1.02,46,1.1,66,1.12,4,.72,8,1,14,.82,20,.62,26,.85,32,.6,38,.78,44,.72,50,.6,56,.85,62,.62,68,.78,74,.55,80,.72,86,.85,92,.65,98,.72,6,.5,12,.42,18,.55,24,.42,30,.48,36,.42,42,.5,48,.38,54,.45,60,.42,66,.5,72,.38,78,.45,84,.42,90,.42,96,.38,
  2,-.52,8,-.38,14,-.58,20,-.7,26,-.42,32,-.68,38,-.55,44,-.38,50,-.62,56,-.72,62,-.5,68,-.42,74,-.62,80,-.5,86,-.72,92,-.45,98,-.6,10,-.85,22,-.92,34,-.85,46,-.95,58,-.9,70,-.82,84,-.98,96,-1.05,81,-1.29,64,-1.15,89,-2.02],
 [5,1.91,21,2.08,21,1.9,24,1.62,48,1.65,48,1.52,55,1.84,60,2.35,60,2.25,99,1.91,16,1.33,75,1.41,93,1.28,10,1.1,34,1.02,70,1.12,86,1.1,4,.72,10,.6,16,.85,22,.68,28,.55,34,.72,40,.62,46,.82,52,.6,58,.7,64,.58,70,.72,76,.62,82,.55,88,.62,94,.5,6,.42,14,.38,22,.45,30,.4,38,.42,46,.4,54,.42,62,.4,70,.42,78,.4,86,.4,96,.38,
  2,-.6,8,-.42,14,-.35,20,-.55,26,-.72,32,-.42,38,-.6,44,-.38,50,-.55,56,-.68,62,-.42,68,-.6,74,-.35,80,-.55,86,-.72,92,-.45,98,-.6,16,-.85,30,-.95,52,-.9,66,-.98,82,-.88,30,-1.44,30,-1.58,57,-1.73,99,-1.32,90,-1.2],
 [57,2.17,77,2.27,57,1.88,57,1.38,45,1.26,33,1.09,18,1.02,4,1.1,70,1.05,90,1.12,4,.9,10,.72,16,.62,22,.8,28,.6,34,.72,40,.62,46,.82,52,.6,58,.72,64,.62,70,.8,76,.62,82,.72,88,.62,94,.55,2,.48,8,.42,14,.5,20,.42,26,.45,32,.38,38,.45,44,.42,50,.38,56,.42,62,.4,68,.45,74,.42,80,.38,86,.45,92,.36,98,.42,
  2,-.6,8,-.42,14,-.55,20,-.72,26,-.48,32,-.62,38,-.72,44,-.42,50,-.6,56,-.48,62,-.72,68,-.5,74,-.62,80,-.72,86,-.42,92,-.6,98,-.52,6,-.88,12,-1,24,-.85,48,-.92,70,-.98,84,-.9,10,-1.68,64,-1.24,86,-1.31],
 [0,2.5,2,2.35,20,2.35,49,2.5,49,2.35,72,1.93,33,1.62,41,1.62,51,1.67,51,1.47,54,1.28,2,1.33,0,1.18,60,1.1,82,1.12,92,1.05,14,1.02,24,1.08,38,1.02,46,.95,4,.78,10,.85,16,.72,22,.85,28,.68,34,.88,40,.72,46,.78,52,.92,58,.78,64,.7,70,.85,76,.72,82,.62,88,.78,94,.7,2,.5,8,.55,14,.48,20,.6,26,.5,32,.55,38,.52,44,.6,50,.48,56,.55,62,.5,68,.58,74,.45,80,.5,86,.48,92,.52,98,.45,6,.34,18,.36,30,.32,42,.36,54,.34,66,.36,78,.34,90,.32,
  2,-.38,6,-.55,10,-.72,14,-.42,18,-.6,22,-.78,26,-.5,30,-.35,34,-.62,38,-.75,42,-.48,46,-.35,50,-.6,54,-.72,58,-.5,62,-.38,66,-.62,70,-.78,74,-.45,78,-.6,82,-.5,86,-.72,90,-.42,94,-.6,98,-.5,6,-.9,14,-1,22,-.95,34,-.9,48,-.92,60,-.98,74,-.88,-2,-1.2,4,-1.25,18,-2.16,43,-2.02,80,-2.48],
 [8,2.47,71,2.5,37,2.3,47,2.25,84,2.28,88,2.08,90,1.95,0,1.9,20,1.77,49,1.83,43,1.7,70,1.92,7,1.52,10,1.45,60,1.35,40,1.22,80,1.12,28,1.05,4,1,52,1.08,68,1,94,1.1,6,.85,12,.72,18,.6,24,.82,30,.62,36,.75,42,.88,48,.65,54,.78,60,.85,66,.72,72,.9,78,.85,84,.78,90,.85,96,.7,2,.5,8,.55,14,.42,20,.45,26,.52,32,.42,38,.5,44,.42,50,.5,56,.42,62,.52,68,.45,74,.5,80,.45,86,.5,92,.42,98,.46,10,.33,28,.32,46,.34,64,.32,82,.33,
  2,-.48,8,-.62,14,-.42,20,-.72,26,-.55,32,-.38,38,-.62,44,-.5,50,-.35,56,-.62,62,-.5,68,-.42,74,-.68,80,-.5,86,-.58,92,-.42,98,-.55,14,-.85,20,-.95,24,-1.05,26,-1.2,20,-1.3,50,-.82,64,-.85,82,-.9,20,-2.03,64,-2.03],
 [5,1.8,64,2.12,88,2.34,37,1.26,56,1.26,20,1,78,1,40,1.02,90,.98,4,.65,10,.52,16,.48,22,.62,28,.45,34,.5,40,.55,46,.42,52,.5,58,.48,64,.62,70,.42,76,.5,82,.72,88,.5,94,.42,2,.38,12,.35,24,.35,36,.38,48,.36,60,.35,72,.35,84,.36,96,.3,
  4,-.42,12,-.55,20,-.72,28,-.48,36,-.62,44,-.35,52,-.52,60,-.72,68,-.42,76,-.6,84,-.5,92,-.62,14,-.82,26,-.85,40,-.92,74,-.82,90,-.85,57,-1.45,88,-1.25,91,-1.35],
 [9,2,0,1.65,16,1.65,0,1.5,63,2.5,73,2.5,70,1.91,42,1.13,60,1.1,8,.95,26,.85,50,.82,66,.9,72,.72,4,.62,12,.55,18,.68,24,.45,30,.55,36,.72,42,.62,48,.52,54,.62,60,.45,66,.55,72,.5,78,.48,2,.38,10,.36,20,.32,28,.36,38,.38,46,.32,56,.36,
  4,-.52,12,-.62,18,-.42,24,-.55,30,-.68,36,-.48,42,-.72,48,-.38,54,-.55,60,-.42,66,-.62,72,-.42,16,-.85,26,-.92,44,-.82,66,-.9,74,-1.05,34,-2.2,68,-.78],
 [16,2.43,32,2.46,62,1.72,0,1.33,0,1.18,20,1.31,25,1.31,59,1.3,78,1.35,99,1.26,0,.78,12,.72,30,.9,42,.62,48,.85,54,.72,62,.95,70,.78,76,.6,82,.82,88,.72,94,.62,4,.5,10,.42,16,.55,22,.46,28,.52,34,.42,40,.5,46,.4,52,.55,58,.42,64,.5,70,.45,76,.42,82,.5,88,.42,94,.48,100,.42,6,.32,24,.3,44,.28,60,.32,78,.3,
  0,-.62,16,-.35,20,-.52,26,-.42,32,-.62,38,-.5,44,-.72,50,-.42,56,-.6,62,-.48,68,-.72,74,-.42,80,-.6,86,-.5,92,-.68,98,-.42,26,-.82,36,-.75,50,-.88,64,-.85,78,-.82,90,-.95,48,-1.1,77,-1.7,87,-1.42],
 [0,2.5,15,2.25,10,2.13,0,2,18,2.13,42,2.13,63,2.5,62,2.32,62,2.12,13,1.77,1,1.53,45,1.46,87,1.76,63,1.65,70,1.33,97,1.28,7,1.25,30,1.12,54,1.02,76,1.08,90,1.02,2,.95,6,.72,12,.85,18,.68,24,.88,30,.72,36,.62,42,.85,48,.68,54,.75,60,.9,66,.72,72,.85,78,.72,84,.92,90,.7,96,.82,2,.52,8,.45,14,.58,20,.42,26,.55,32,.45,38,.58,44,.42,50,.52,56,.42,62,.58,68,.46,74,.52,80,.42,86,.55,92,.45,98,.52,10,.3,30,.3,50,.3,70,.3,88,.32,
  4,-.42,10,-.58,16,-.35,22,-.6,28,-.42,34,-.72,40,-.55,46,-.35,52,-.62,58,-.48,64,-.72,70,-.42,76,-.6,82,-.35,88,-.55,94,-.72,100,-.5,14,-.85,26,-.9,38,-.85,52,-.88,66,-.9,80,-.82,16,-1.35,15,-1.5,20,-1.22,38,-2.15,64,-1.55,81,-1.16],
 [11,2.5,14,2.32,16,2.18,0,2.07,11,1.82,2,1.7,66,2.3,64,2.12,95,2.22,40,1.64,14,1.38,44,1.38,85,1.54,93,1.5,60,1.25,72,1.3,48,1.22,26,1.02,80,1.1,4,.9,10,.72,16,.6,22,.82,28,.62,34,.55,40,.95,46,.78,52,1,58,.88,64,.95,70,.82,76,.72,82,.92,88,.68,94,.78,2,.5,8,.46,14,.42,20,.48,26,.42,32,.38,38,.52,44,.58,50,.55,56,.62,62,.5,68,.58,74,.46,80,.52,86,.42,92,.48,98,.4,
  2,-.42,8,-.58,14,-.35,20,-.62,26,-.42,32,-.5,38,-.3,44,-.62,50,-.42,56,-.35,62,-.62,68,-.45,74,-.75,80,-.42,86,-.62,92,-.78,98,-.52,6,-.85,20,-.82,34,-.85,48,-.88,60,-.8,74,-.92,88,-.95,94,-1,38,-1.42,45,-1.75,52,-1.14,81,-1.16,95,-1.35,82,-1.02,96,-1.1],
 [0,1.62,27,1.54,49,1.38,80,1.41,12,.95,36,.92,60,.82,90,.85,4,.62,10,.48,16,.72,22,.5,28,.62,34,.45,40,.55,46,.45,52,.62,58,.42,64,.5,70,.42,76,.52,82,.45,88,.6,94,.4,100,.45,6,.32,18,.3,32,.32,48,.3,66,.32,84,.3,
  2,-.5,8,-.35,14,-.6,20,-.42,26,-.55,32,-.38,38,-.5,44,-.62,50,-.32,56,-.42,62,-.55,68,-.48,74,-.62,80,-.42,86,-.55,92,-.38,98,-.5,30,-.72,50,-.7,70,-.75],
 [19,2.5,29,2.47,38,2.5,4,2.3,16,2.3,48,2.15,0,2.04,10,2.06,12,1.92,27,2.08,37,2,66,1.96,79,2.07,98,2.29,60,1.77,2,1.72,33,1.65,88,1.62,25,1.46,98,1.38,8,1.2,16,1.05,28,1.12,44,1.02,56,1.1,68,1.05,78,1.08,90,1.02,2,.88,6,.72,12,.85,18,.62,24,.9,30,.72,36,.85,42,.68,48,.78,54,.9,60,.72,66,.85,72,.62,78,.8,84,.7,90,.62,96,.72,2,.55,8,.48,14,.55,20,.45,26,.55,32,.48,38,.55,44,.42,50,.52,56,.45,62,.55,68,.42,74,.5,80,.42,86,.48,92,.42,98,.45,4,.34,14,.32,24,.3,34,.32,46,.3,60,.28,
  0,-.3,4,-.42,8,-.55,12,-.3,16,-.48,20,-.62,24,-.35,28,-.52,32,-.68,36,-.42,40,-.58,44,-.35,48,-.5,52,-.62,56,-.42,60,-.55,64,-.68,68,-.42,72,-.55,76,-.38,80,-.62,84,-.48,88,-.6,92,-.4,96,-.55,100,-.48,2,-.72,6,-.82,10,-.65,14,-.78,18,-.88,22,-.72,26,-.85,30,-.75,34,-.88,38,-.72,42,-.8,46,-.72,54,-.78,62,-.82,72,-.78,4,-.95,12,-1,24,-.95,36,-1.05,48,-.95,0,-1.32,16,-1.53,19,-1.63,10,-1.73,11,-1.88,79,-2.15,73,-2.5,53,-1.4,72,-1.2,30,-1.1,66,-.92],
 [25,2.2,48,2.43,64,2.3,64,2.12,64,1.78,12,1.33,34,1.35,42,1.2,74,1.12,86,1.25,4,1,18,1.02,54,1,94,.95,2,.72,8,.85,14,.62,20,.78,26,.6,32,.88,38,.72,44,.62,50,.85,56,.72,62,.6,68,.78,74,.62,80,.85,86,.72,92,.62,98,.55,4,.46,10,.42,16,.45,22,.42,28,.38,34,.45,40,.42,46,.4,52,.5,58,.42,64,.42,70,.46,76,.4,82,.48,88,.42,94,.36,100,.45,30,.3,50,.3,70,.3,
  2,-.42,8,-.58,14,-.36,20,-.52,26,-.42,32,-.6,38,-.35,44,-.55,50,-.42,56,-.68,62,-.38,68,-.58,74,-.72,80,-.42,86,-.6,92,-.45,98,-.55,4,-1.18,49,-1.66,69,-1.66,75,-1.15,16,-.82,30,-.78,60,-.85,66,-.95,72,-1,82,-.88,62,-1.1],
 [13,1.8,64,1.87,47,1,34,.82,60,.85,90,.75,4,.55,10,.42,16,.6,22,.42,28,.5,34,.38,40,.55,46,.42,52,.45,58,.38,64,.52,70,.42,76,.38,82,.45,88,.5,94,.38,100,.42,6,.32,30,.3,56,.32,80,.3,
  4,-.42,10,-.55,16,-.35,22,-.62,28,-.42,34,-.52,40,-.38,46,-.55,52,-.42,58,-.62,64,-.35,70,-.55,76,-.42,82,-.6,88,-.38,94,-.5,100,-.55,20,-.85,44,-.82,64,-.78,66,-1.27,20,-1.15,44,-.98],
 [38,2.35,62,2.08,72,2.08,24,1.92,58,1.72,78,1.82,79,1.65,0,1.54,24,1.5,87,1.26,4,1.3,12,1.25,18,1.05,30,1.1,38,1.02,46,.95,66,1.02,84,.95,94,.85,4,.7,10,.55,16,.62,22,.82,28,.5,34,.72,40,.6,46,.5,52,.62,58,.85,64,.55,70,.68,76,.62,82,.6,88,.5,94,.62,2,.4,8,.35,14,.42,20,.38,26,.36,32,.4,44,.36,56,.38,68,.4,80,.36,92,.34,
  4,-.42,10,-.55,16,-.68,22,-.42,28,-.58,34,-.72,40,-.45,46,-.62,52,-.42,58,-.55,64,-.72,70,-.42,76,-.58,82,-.42,88,-.62,94,-.48,100,-.6,12,-.85,28,-.82,50,-1.12,64,-.88,78,-1,86,-.95],
 [50,2.5,71,2.5,94,1.72,94,1.43,24,1.5,22,1.38,65,1.53,68,1.43,51,1.33,52,1.15,44,1.05,38,1,80,1.1,90,.98,2,.62,8,.55,14,.42,20,.72,26,.62,32,.5,38,.62,44,.72,50,.85,56,.95,62,.6,68,.72,74,.88,80,.65,86,.78,92,.62,98,.8,4,.42,12,.36,18,.45,24,.38,30,.36,36,.42,42,.38,48,.48,54,.42,60,.45,66,.42,72,.48,78,.4,84,.46,90,.42,96,.45,100,.25,
  2,-.35,8,-.52,14,-.42,20,-.62,26,-.35,32,-.5,38,-.62,44,-.42,50,-.58,56,-.42,62,-.62,68,-.45,74,-.5,80,-.42,86,-.62,92,-.5,98,-.55,4,-.72,16,-.82,28,-.85,40,-.78,52,-.72,24,-1.05,8,-1.12,83,-1.32,96,-1.26,27,-1.41,24,-1.85]
];

const cisD = [
 [29,-.63,29,-.8,29,-1.26,29,-1.3,29,-1.38,52,-.58,52,-.78,51,-1.04,51,-2.49,96,1.17,97,.92,96,.78,96,.68,96,.49,97,.34,96,.24,97,.6,94,-.34,96,-.51,96,-.68,96,-.84,97,-1,96,-.95],
 [12,2.44,12,2.42],
 [],
 [54,1,55,.67,55,.53,55,.6,55,-.69],
 [],[],
 [50,-1.07],
 [69,2.5,38.5,2.04,44,1.89,73,1.54,44,1.5,42,1.3,43,1.15,65,1.2,63,1.02,40,.84,48,.78,75,.8,61,.75,71,.58,40,.53,44,.58,28,.44,28,.29,48,.32,61,.46,71,.39,42,.45,44,.62,66,.95,63,.65,42,1.02,69,1.55,60,.9,
  28,-.43,28,-1,46,-.76,70,-.81,70,-1,71,-.98],
 [],
 [13,.95,13,.61,13,.44],
 [84,1.49,87,1.13,89,.97,93,.84,98,.61,99,.65,
  85,-.34,94,-.3,88,-.4,96,-.42,86,-.5,92,-.5,97,-.55,85,-.6,90,-.65,96,-.65,86,-.72,92,-.75,97,-.78,88,-.82,94,-.88,85,-.9,97,-.98,90,-1,84,-1.1,92,-1.08,96,-1.12,86,-1.2,90,-1.28,88,-1.32,92,-1.42,88,-1.8,92,-1.72,90,-1.77,91,-1.95,96,-1.88],
 [],[],
 [77,1.52,97,1.99,96,2.5,98,1.51,94,1.36,78,.87,78,.73,78,.58,97,1.12,94,1.02,96,.95,98,.88,93,.85,95,.75,98,.72,94,.65,97,.6,96,.52,94,.48,75,.45,74.5,-2.04],
 [],[],[],[],
 [45,2.43,45,1.54,47,1.38,47,.76,47,.58,43,.37,47,.47,47,.68,42,-.31,44,-.58,44,-.68,45,-.78,44,-.88,46,-.95,43,-1.05,44,-1.15,46,-1.22,44,-1.32,45,-1.42,44,-1.52,43,-1.62,44,-1.7,43,-1.78,43,-1.85,43,-2.49],
 [],[],[],[]
];

// copy number segments per chromosome: start, end, state (percent along chromosome)
const cnB_A = [
 [0,26,2,26,36,3,36,38,1,38,64,4,64,76,7,76,87,4,87,93,3,93,96,4,96,100,3],[0,2,4,2,90,3,90,100,2],[0,46,2,46,49,4,49,55,3,55,78,2,78,100,3],[0,34,3,34,63,2,63,100,3],[0,10,1,10,13,3,13,18,4,18,100,2],
 [0,57,5,57,59,6,59,67,3,67,70,11,70,78,2,78,100,3],[0,33,4,33,100,3],[0,51,3,51,54,4,54,63,2,63,66,8,66,81,2,81,83,8,83,100,2],[0,8,1,8,28,2,28,51,4,51,53,6,53,100,2],[0,7,2,7,10,4,10,15,2,15,21,1,21,39,2,39,42,6,42,46,2,46,49,9,49,100,2],
 [0,29,2,29,43,3,43,45,2,45,73,3,73,76,4,76,78,3,78,86,4,86,100,2],[0,28,3,28,88,2,88,100,3],[0,29,3,29,45,1,45,70,3,70,100,4],[0,41,2,41,42.5,1,42.5,100,2],[0,2,1,2,45,2,45,85,3,85,100,4],
 [0,32,2,32,42,3,42,56,2,56,58,3,58,100,2],[0,43,3,43,79,4,79,90,2,90,100,4],[0,23,1,23,52,2,52,76,3,76,100,2],[0,22,2,22,41,1,41,54,4,54,100,3],[0,100,4],[0,12,2,12,85,4,85,100,3],[0,11,2,11,35,1,35,100,2],[0,2,4,2,40,5,40,100,1]
];
const cnB_H = [
 [0,26,2,26,35,3,35,38,1,38,45,3,45,64,4,64,72,7,72,76,8,76,100,4],[0,90,3,90,100,2],[0,18,3,18,45,2,45,46,1,46,50,3,50,78,2,78,100,3],[0,100,2],[0,10,2,10,13,5,13,15,3,15,18,4,18,100,2],
 [0,10,6,10,46,4,46,57,5,57,67,3,67,70,11,70,74,2,74,100,4],[0,33,3,33,100,2],[0,38,3,38,47,2,47,50,3,50,54,2,54,63,1,63,66,2,66,73,5,73,76,2,76,81,1,81,83,8,83,100,1],[0,7,1,7,27,2,27,53,4,53,100,2],[0,7,2,7,10,5,10,39,2,39,42,9,42,46,2,46,49,11,49,100,2],
 [0,29,2,29,33,3,33,73,2,73,80,3,80,86,4,86,100,2],[0,22,5,22,58,3,58,88,2,88,100,3],[0,100,2],[0,41,2,41,42.5,1,42.5,100,2],[0,2,1,2,85,2,85,100,3],
 [0,42,3,42,56,2,56,58,3,58,100,2],[0,79,3,79,100,2],[0,8,1,8,100,2],[0,22,2,22,41,1,41,100,2],[0,32,3,32,100,2],[0,100,3],[0,100,2],[0,2,1,2,34,5,34,40,4,40,100,1]
];
const cnD_H = [
 [0,23,1,23,30,3,30,53,2,53,62,3,62,66,2,66,70,3,70,79,2,79,90,3,90,100,5],[0,2,3,2,4,5,4,12,3,12,82,2,82,89,3,89,100,1],[0,11,3,11,44,1,44,100,2],[0,28,1,28,54,2,54,55,3,55,74,2,74,100,1],[0,20,2,20,48,1,48,100,2],
 [0,73,2,73,100,1],[0,3,1,3,10,3,10,16,2,16,31,3,31,50,2,50,86,3,86,100,1],[0,27,2,27,29,3,29,50,2,50,55,4,55,67,3,67,75,5,75,81,3,81,100,2],[0,27,1,27,100,2],[0,13,3,13,100,1],
 [0,19,1,19,30,3,30,75,2,75,80,3,80,96,1,96,100,2],[0,13,2,13,100,1],[0,14,1,14,40,2,40,53,1,53,67,2,67,80,1,80,100,2],[0,61,1,61,100,2],[0,90,1,90,100,3],
 [0,14,3,14,100,2],[0,32,1,32,57,2,57,73,1,73,100,2],[0,12,1,12,100,2],[0,7,1,7,41,2,41,100,1],[0,12,1,12,100,2],[0,100,2],[0,58,1,58,100,2],[0,2,0,2,100,2]
];
const cnD_E = [
 [0,23,1,23,30,3,30,53,2,53,62,3,62,66,2,66,70,3,70,79,2,79,90,3,90,95,5,95,100,4],[0,2,3,2,4,5,4,12,3,12,82,2,82,89,3,89,100,1],[0,11,3,11,44,1,44,100,2],[0,28,1,28,74,2,74,100,1],[0,20,2,20,48,1,48,100,2],
 [0,73,2,73,100,1],[0,3,1,3,10,3,10,16,2,16,31,3,31,50,2,50,86,3,86,100,1],[0,38,2,38,49,1,49,55,4,55,60,3,60,65,2,65,70,1,70,81,3,81,100,2],[0,27,1,27,100,2],[0,13,3,13,100,1],
 [0,19,1,19,30,3,30,75,2,75,80,3,80,96,2,96,100,4],[0,13,2,13,100,1],[0,14,1,14,40,2,40,53,1,53,67,2,67,80,1,80,100,2],[0,61,1,61,68,2,68,100,1],[0,90,1,90,100,3],
 [0,14,3,14,100,2],[0,32,1,32,57,2,57,73,1,73,100,2],[0,12,1,12,100,2],[0,7,1,7,40,2,40,41.5,4,41.5,100,1],[0,12,1,12,100,2],[0,100,2],[0,58,1,58,100,2],[0,2,0,2,100,2]
];

// gene, chromosome, point pos, point fc, label pos, label fc
const labelsA = [
 ['CRABP2','1',65,2.5,54,2.16],['EPCAM','2',20,1.99,55,2.21],['RHOB','2',6,1.64,43,1.46],['FOXP1','3',43,1.82,37,2.14],['EIF4A2','3',92,1.37,52,1.36],['HMGCS1','5',16,1.49,50,1.44],
 ['MCL1','1',56,.4,61,.71],['DPM3','1',62,-1.81,64.5,-1.41],['RGS16','1',80,-1.96,51,-1.99],['SPRR2F','1',60,-2.44,45,-2.38],['STAT1','2',72,-1.6,42,-1.62],['COPS9','2',97,-2.18,57,-2.2],
 ['MARCKS','6',0,-.8,47.5,-.8],['ASPH','8',44,.52,39,.22],['MYC','8',82.5,1.27,52.4,1.24],['KLF6','10',2.7,1.48,33.5,1.46],['YY1','14',79,.37,52,.37],['SLIRP','14',63.5,-1.98,57.5,-2.32],
 ['NDUFA7','19',4,-.75,52.5,-.71],['VCX3B','X',4,2.19,44,2.36],['GAGE2A','X',31,1.88,47,1.52]
];
const labelsB = [
 ['ID2','2',2,2.5,26,2.44],['HSPA1A','6',27,2.5,55,2.44],['ID4','6',9,2.5,23,1.9],['ARF5','7',74,2.15,44,2.15],['PTN','7',82,1.38,53.5,1.37],['TUBB','6',23,.46,53,.46],['UBE3C','7',99,.45,58.5,.44],
 ['SFRP1','8',35,2.18,63.4,2.17],['OSR2','8',66,-1.18,60.6,-.86],['POLR2K','8',69,-1.33,45.6,-1.58],['COX6C','8',68,-2.5,40.5,-2.17],['DYRK4','12',4,-1.68,44,-1.68],['MGST1','12',21,-2.5,54,-2.4],
 ['FOXC1','6',1,-2.18,39,-2.18],['PRRX1','1',73,-1.18,43,-1.18],['NR2F2','15',94,1.47,54,1.48],['STAT3','17',52,2.35,45,2.02],['RAC3','17',98,1.65,64,1.34],['TCF4','18',70,1.86,40,1.83],
 ['SPINT2','19',51,2.5,50,2.17],['ID1','20',36,2.5,28.5,2.17],['TMEM147','19',46,.67,55,1],['TPX2','20',37,.77,32,1.33],['TOP1','20',58,.55,67,.87],['CEBPB','20',75,.35,62,.03]
];
const labelsC = [
 ['NDUFC1','4',44,2.5,47,2.37],['COX7C','5',35,2.45,50,2.13],['COX7A2','6',60,2.5,45,2.13],['NDUFB2','7',84,2.5,46,2.41],['SCGB1D2','11',49,2.5,54,2.13],['DDX1','2',6,.68,40,.83],['RAB10','2',10,.28,49,.14],
 ['UBE3C','7',97,.76,58,.74],['HADH','4',30,-.61,34,-.61],['TMEM59','1',30,-1.55,50,-1.31],['SLC5A6','2',14,-1.1,51,-1.13],['AK4','1',44,-2.23,25,-2.48],['CXCL3','4',44,-2.5,49,-2.17],['PTN','7',80,-2.5,72,-2.17],
 ['SLIRP','14',64,2.5,64,2.13],['ATP5F1E','20',64,2.35,49,2.41],['COX7B','X',50,2.5,50,2.13],['TRPM4','19',74,-2.5,43,-2.32]
];
const labelsD = [
 ['MRPL33','2',12,2.44,52,2.43],['CSDE1','1',51,-2.49,50,-2.17],['UQCRB','8',69,2.5,42,2.43],['COX6C','8',38.5,2.04,59,2.16],['PCMTD1','8',44,1.89,48,1.68],['PRKDC','8',73,1.54,55,1.38],['ASPH','8',44,.8,49,1.05],
 ['ATP5MPL','14',96,2.5,49.5,2.43],['EIF5','14',97,1.07,64,1.21],['YY1','14',79,.63,72,.31],['DICER1','14',74.5,-2.04,44,-2.04],['COX6B1','19',45,2.43,53,2.43],['LSM14A','19',43,-2.49,50,-2.17]
];

const svg = d3.select('#chart');
const left = 54, right = 1761;

const chromBand = d3.scaleBand().domain(chromNames).range([left, right]).paddingInner(4.4 / 74.4);
const posScale = d3.scaleLinear().domain([0, 100]).range([0, chromBand.bandwidth()]);
const fcColor = d3.scaleLinear().domain(fcStops).range(fcColors).clamp(true);
const px = (chrom, pos) => chromBand(chrom) + posScale(pos);

// one scatter panel with its title, colour bar and gene labels
function drawPanel(cfg) {
  const g = svg.append('g');
  const y = d3.scaleLinear().domain([-2.68, 2.72]).range([cfg.top + 187.7, cfg.top]);

  g.append('text').attr('x', 7).attr('y', cfg.letterY)
    .style('font-family', '"Liberation Sans"').style('font-weight', 'bold').style('font-size', '46px')
    .text(cfg.letter);
  g.append('text').attr('x', 54).attr('y', cfg.top - 93.5)
    .style('font-weight', 'bold').style('font-size', '19.3px').text(cfg.title);
  g.append('text').attr('x', 597).attr('y', cfg.top - 43)
    .style('font-size', '19.1px').text(cfg.contrast);
  g.append('text').attr('x', 1007).attr('y', cfg.top - 43)
    .style('font-size', '19.1px').text('log2FC');

  drawColorBar(g, cfg.top - 74, cfg.letter);

  // chromosome baseline segments
  g.selectAll('.base').data(chromNames).enter().append('line')
    .attr('x1', d => chromBand(d)).attr('x2', d => chromBand(d) + chromBand.bandwidth())
    .attr('y1', y.range()[0]).attr('y2', y.range()[0])
    .attr('stroke', '#333').attr('stroke-width', 1.6);

  const axis = d3.axisLeft(y).tickValues(fcTicks).tickSize(4).tickSizeOuter(0).tickFormat(d => String(d));
  const ax = g.append('g').attr('transform', `translate(${left},0)`).call(axis);
  ax.select('.domain').attr('stroke', '#222').attr('stroke-width', 1.6);
  ax.selectAll('.tick line').attr('stroke', '#333');
  ax.selectAll('.tick text').style('font-size', '18px').attr('dx', -1);

  g.append('text').attr('transform', `translate(19,${y(0)}) rotate(-90)`)
    .attr('text-anchor', 'middle').style('font-size', '18px').text('log2 FC');

  // flat pos,fc pairs into point records, labelled genes are points too
  const pts = [];
  cfg.points.forEach((list, i) => {
    for (let k = 0; k < list.length; k += 2) {
      pts.push({ chrom: chromNames[i], pos: list[k], fc: list[k + 1] });
    }
  });
  cfg.labels.forEach(l => pts.push({ chrom: l[1], pos: l[2], fc: l[3] }));
  pts.sort((a, b) => d3.ascending(Math.abs(a.fc), Math.abs(b.fc)));

  g.append('g').selectAll('circle').data(pts).enter().append('circle')
    .attr('cx', d => px(d.chrom, d.pos))
    .attr('cy', d => y(d.fc))
    .attr('r', 3.3)
    .attr('fill', d => fcColor(d.fc));

  g.append('line')
    .attr('x1', left).attr('x2', right).attr('y1', y(0)).attr('y2', y(0))
    .attr('stroke', '#c9303c').attr('stroke-width', 2.2).attr('stroke-dasharray', '5.5,3');

  // gene labels and the little connector stubs
  cfg.labels.forEach(l => {
    const [gene, chrom, pPos, pFc, lPos, lFc] = l;
    const x0 = px(chrom, pPos), y0 = y(pFc), x1 = px(chrom, lPos), y1 = y(lFc);
    const t = g.append('text').attr('x', x1).attr('y', y1).attr('dy', '0.36em')
      .attr('text-anchor', 'middle').style('font-size', '13px').text(gene);
    const b = t.node().getBBox();
    const hw = b.width / 2 + 1, hh = b.height / 2 - 1;
    const dx = x0 - x1, dy = y0 - y1;
    const k = Math.max(Math.abs(dx) / hw, Math.abs(dy) / hh);
    if (k > 1) {
      g.append('line').attr('x1', x1 + dx / k).attr('y1', y1 + dy / k).attr('x2', x0).attr('y2', y0)
        .attr('stroke', '#000').attr('stroke-width', 1);
      g.append('circle').attr('cx', x0).attr('cy', y0).attr('r', 0.8).attr('fill', '#000');
    }
  });
}

function drawColorBar(g, top, id) {
  const barScale = d3.scaleLinear().domain([-2.5, 2.5]).range([1076.5, 1203.6]);
  const gradId = 'fcGrad' + id;
  const grad = g.append('defs').append('linearGradient').attr('id', gradId);
  grad.selectAll('stop').data(fcStops).enter().append('stop')
    .attr('offset', d => ((d + 2.5) / 5 * 100) + '%')
    .attr('stop-color', d => fcColor(d));
  g.append('rect').attr('x', barScale.range()[0]).attr('y', top)
    .attr('width', barScale.range()[1] - barScale.range()[0]).attr('height', 26)
    .attr('fill', `url(#${gradId})`);
  fcTicks.forEach(v => {
    g.append('line').attr('x1', barScale(v)).attr('x2', barScale(v)).attr('y1', top).attr('y2', top + 5)
      .attr('stroke', '#fff').attr('stroke-width', 0.8);
    g.append('line').attr('x1', barScale(v)).attr('x2', barScale(v)).attr('y1', top + 21).attr('y2', top + 26)
      .attr('stroke', '#fff').attr('stroke-width', 0.8);
    g.append('text').attr('x', barScale(v)).attr('y', top + 46).attr('text-anchor', 'middle')
      .style('font-size', '13px').text(String(v));
  });
}

// clone copy number strip, chromosome labels and legend
function drawStrip(cfg) {
  const g = svg.append('g');
  const clones = cfg.clones;
  const y = d3.scaleBand().domain(clones).range([cfg.top, cfg.top + 47.4]);

  clones.forEach((clone, ci) => {
    const rows = cfg.rows[ci];
    chromNames.forEach((chrom, i) => {
      const list = rows[i];
      for (let k = 0; k < list.length; k += 3) {
        g.append('rect')
          .attr('x', px(chrom, list[k])).attr('y', y(clone))
          .attr('width', posScale(list[k + 1]) - posScale(list[k])).attr('height', y.bandwidth())
          .attr('fill', cnColors[list[k + 2]]).attr('shape-rendering', 'crispEdges');
      }
    });
  });

  g.selectAll('.stripBase').data(chromNames).enter().append('line')
    .attr('x1', d => chromBand(d)).attr('x2', d => chromBand(d) + chromBand.bandwidth())
    .attr('y1', cfg.top + 48).attr('y2', cfg.top + 48)
    .attr('stroke', '#1c1c1c').attr('stroke-width', 2.2);

  const ax = g.append('g').attr('transform', `translate(${left},0)`)
    .call(d3.axisLeft(y).tickSize(4).tickSizeOuter(0));
  ax.select('.domain').attr('stroke', '#222').attr('stroke-width', 1.6);
  ax.selectAll('.tick line').attr('stroke', '#333');
  ax.selectAll('.tick text').style('font-size', '19px').attr('dx', -1);

  g.append('text').attr('transform', `translate(19,${cfg.top + 24}) rotate(-90)`)
    .attr('text-anchor', 'middle').style('font-size', '18px').text('Clone');

  const xAxis = d3.axisBottom(chromBand).tickSize(0);
  const xa = g.append('g').attr('transform', `translate(0,${cfg.top + 49})`).call(xAxis);
  xa.select('.domain').remove();
  xa.selectAll('.tick text').attr('y', 16).style('font-size', '20px');

  g.append('text').attr('x', 907.5).attr('y', cfg.top + 112).attr('text-anchor', 'middle')
    .style('font-size', '26.5px').text('Chromosome');

  // legend
  const ly = cfg.top + 148;
  g.append('text').attr('x', cfg.legendX).attr('y', ly).attr('dy', '0.36em').style('font-size', '13px').text('Copy number');
  let sx = cfg.legendX + 90;
  d3.range(cfg.states).forEach(s => {
    g.append('rect').attr('x', sx).attr('y', ly - 6).attr('width', 12.7).attr('height', 12.5).attr('fill', cnColors[s]);
    g.append('text').attr('x', sx + 23.5).attr('y', ly).attr('dy', '0.36em').attr('text-anchor', 'middle').style('font-size', '13px').text(String(s));
    sx += s >= 10 ? 40 : 33.3;
  });
}

drawPanel({ top: 130, letter: 'a', letterY: 42, title: 'SA609 cisplatin: in-trans DE genes', contrast: 'log2FC X7-Rx clone A vs X7-UnRx clone H', points: transA, labels: labelsA });
drawPanel({ top: 450.7, letter: 'b', letterY: 366, title: 'SA609 cisplatin: in-cis DE genes', contrast: 'log2FC X7-Rx clone A vs X7-UnRx clone H', points: cisB, labels: labelsB });
drawStrip({ top: 663.3, clones: ['A', 'H'], rows: [cnB_A, cnB_H], legendX: 659, states: 12 });
drawPanel({ top: 950, letter: 'c', letterY: 864, title: 'SA1035 cisplatin: in-trans DE genes', contrast: 'log2FC X8-Rx clone H vs X8-UnRx clone E', points: transC, labels: labelsC });
drawPanel({ top: 1270.7, letter: 'd', letterY: 1187, title: 'SA1035 cisplatin: in-cis DE genes', contrast: 'log2FC X8-Rx clone H vs X8-UnRx clone E', points: cisD, labels: labelsD });
drawStrip({ top: 1483.3, clones: ['H', 'E'], rows: [cnD_H, cnD_E], legendX: 766, states: 6 });
</script>
</body>
</html>
